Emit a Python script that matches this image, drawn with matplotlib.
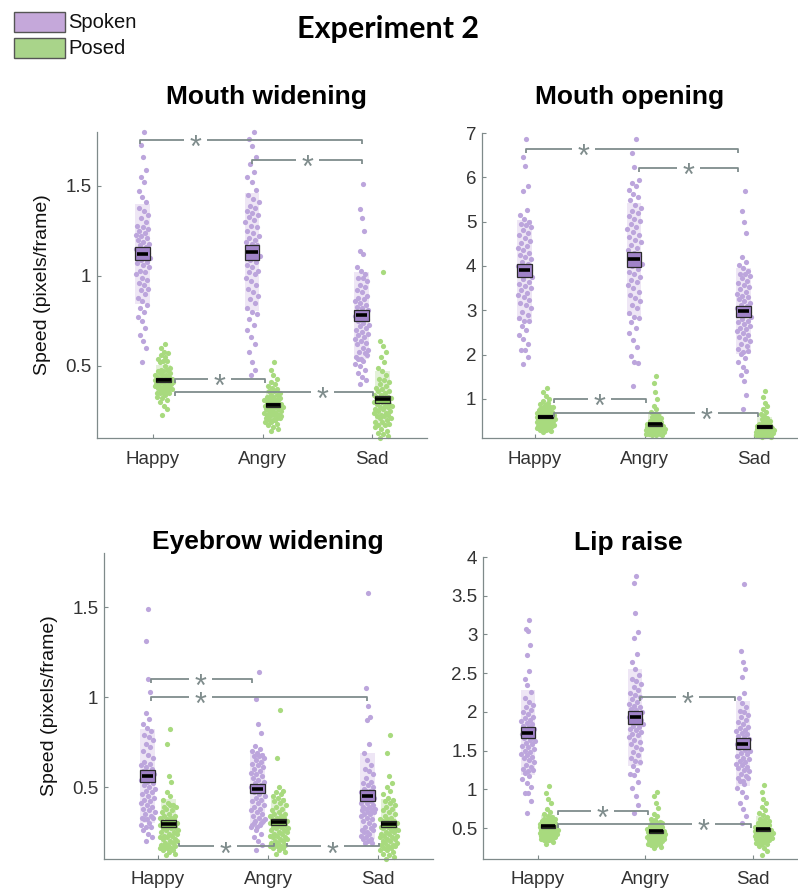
import numpy as np
import matplotlib.pyplot as plt
from matplotlib.patches import Rectangle

W, H = 798, 892
plt.rcParams['font.family'] = ['Liberation Sans', 'DejaVu Sans']

emotions = ["Happy", "Angry", "Sad"]

# Mouth widening (pixels/frame)
mw_spoken_happy = [0.52, 0.60, 0.64, 0.67, 0.71, 0.75, 0.77, 0.80, 0.82, 0.84,
                   0.86, 0.88, 0.90, 0.92, 0.93, 0.95, 0.96, 0.98, 0.99, 1.01,
                   1.02, 1.03, 1.05, 1.06, 1.07, 1.08, 1.09, 1.10, 1.11, 1.12,
                   1.13, 1.14, 1.15, 1.16, 1.17, 1.18, 1.19, 1.20, 1.21, 1.22,
                   1.23, 1.24, 1.25, 1.26, 1.27, 1.28, 1.30, 1.32, 1.34, 1.36,
                   1.38, 1.41, 1.44, 1.47, 1.52, 1.55, 1.59, 1.66, 1.73, 1.80]
mw_spoken_angry = [0.45, 0.48, 0.52, 0.58, 0.62, 0.66, 0.70, 0.73, 0.76, 0.79,
                   0.80, 0.82, 0.85, 0.87, 0.89, 0.91, 0.93, 0.95, 0.97, 0.99,
                   1.01, 1.02, 1.03, 1.05, 1.06, 1.08, 1.09, 1.11, 1.12, 1.14,
                   1.17, 1.18, 1.19, 1.20, 1.21, 1.22, 1.24, 1.25, 1.27, 1.28,
                   1.30, 1.31, 1.33, 1.34, 1.35, 1.36, 1.38, 1.39, 1.41, 1.43,
                   1.45, 1.48, 1.52, 1.55, 1.58, 1.62, 1.66, 1.72, 1.76, 1.80]
mw_spoken_sad = [0.40, 0.42, 0.44, 0.46, 0.48, 0.50, 0.51, 0.53, 0.54, 0.56,
                 0.54, 0.55, 0.57, 0.58, 0.59, 0.60, 0.62, 0.63, 0.64, 0.65,
                 0.66, 0.67, 0.68, 0.69, 0.70, 0.71, 0.72, 0.73, 0.74, 0.75,
                 0.76, 0.77, 0.78, 0.79, 0.80, 0.81, 0.82, 0.83, 0.84, 0.85,
                 0.86, 0.87, 0.88, 0.89, 0.91, 0.92, 0.94, 0.95, 0.97, 0.99,
                 0.99, 1.01, 1.03, 1.05, 1.12, 1.14, 1.25, 1.32, 1.37, 1.51]
mw_posed_happy = [0.23, 0.26, 0.28, 0.30, 0.31, 0.32, 0.33, 0.34, 0.35, 0.35,
                  0.35, 0.35, 0.36, 0.36, 0.37, 0.37, 0.38, 0.38, 0.38, 0.39,
                  0.39, 0.39, 0.40, 0.40, 0.40, 0.41, 0.41, 0.41, 0.42, 0.42,
                  0.41, 0.42, 0.42, 0.42, 0.43, 0.43, 0.43, 0.44, 0.44, 0.45,
                  0.45, 0.45, 0.46, 0.46, 0.47, 0.47, 0.48, 0.48, 0.49, 0.50,
                  0.52, 0.53, 0.53, 0.54, 0.55, 0.56, 0.57, 0.58, 0.60, 0.62]
mw_posed_angry = [0.14, 0.15, 0.16, 0.17, 0.18, 0.19, 0.19, 0.20, 0.20, 0.21,
                  0.20, 0.21, 0.21, 0.22, 0.22, 0.23, 0.23, 0.23, 0.24, 0.24,
                  0.24, 0.25, 0.25, 0.25, 0.26, 0.26, 0.26, 0.27, 0.27, 0.27,
                  0.28, 0.28, 0.28, 0.29, 0.29, 0.29, 0.30, 0.30, 0.31, 0.31,
                  0.31, 0.31, 0.32, 0.32, 0.33, 0.33, 0.34, 0.34, 0.35, 0.36,
                  0.36, 0.37, 0.38, 0.39, 0.40, 0.41, 0.43, 0.45, 0.48, 0.52]
mw_posed_sad = [0.10, 0.11, 0.12, 0.13, 0.14, 0.15, 0.16, 0.17, 0.17, 0.18,
                0.19, 0.19, 0.20, 0.21, 0.21, 0.22, 0.22, 0.23, 0.23, 0.24,
                0.24, 0.25, 0.25, 0.26, 0.26, 0.27, 0.27, 0.28, 0.28, 0.29,
                0.29, 0.30, 0.30, 0.31, 0.31, 0.32, 0.32, 0.33, 0.33, 0.34,
                0.34, 0.35, 0.36, 0.36, 0.37, 0.38, 0.39, 0.40, 0.41, 0.42,
                0.43, 0.45, 0.47, 0.49, 0.52, 0.55, 0.58, 0.61, 0.64, 1.02]

# Mouth opening
mo_spoken_happy = [1.79, 1.95, 2.10, 2.10, 2.25, 2.35, 2.45, 2.55, 2.65, 2.75,
                   2.75, 2.83, 2.90, 2.97, 3.05, 3.11, 3.17, 3.23, 3.29, 3.35,
                   3.40, 3.45, 3.50, 3.55, 3.60, 3.65, 3.70, 3.75, 3.80, 3.85,
                   3.90, 3.95, 4.00, 4.05, 4.10, 4.15, 4.20, 4.25, 4.30, 4.35,
                   4.40, 4.45, 4.51, 4.57, 4.63, 4.69, 4.75, 4.81, 4.87, 4.93,
                   4.94, 5.00, 5.05, 5.15, 5.26, 5.70, 5.81, 6.26, 6.46, 6.87]
mo_spoken_angry = [1.30, 1.81, 1.83, 1.98, 2.18, 2.33, 2.48, 2.60, 2.73, 2.83,
                   2.85, 2.95, 3.05, 3.13, 3.20, 3.28, 3.35, 3.42, 3.50, 3.57,
                   3.63, 3.69, 3.75, 3.81, 3.87, 3.93, 3.99, 4.05, 4.11, 4.17,
                   4.23, 4.29, 4.35, 4.41, 4.47, 4.53, 4.59, 4.65, 4.71, 4.77,
                   4.83, 4.89, 4.95, 5.01, 5.07, 5.13, 5.19, 5.25, 5.31, 5.37,
                   5.48, 5.55, 5.63, 5.71, 5.80, 5.87, 5.95, 6.24, 6.55, 6.87]
mo_spoken_sad = [0.77, 1.10, 1.40, 1.55, 1.63, 1.73, 1.83, 1.93, 2.01, 2.08,
                 2.07, 2.13, 2.19, 2.25, 2.30, 2.35, 2.40, 2.45, 2.49, 2.53,
                 2.57, 2.61, 2.65, 2.69, 2.73, 2.77, 2.81, 2.85, 2.89, 2.93,
                 2.97, 3.01, 3.05, 3.09, 3.13, 3.17, 3.21, 3.25, 3.29, 3.33,
                 3.37, 3.42, 3.47, 3.52, 3.57, 3.62, 3.67, 3.72, 3.77, 3.82,
                 3.82, 3.88, 3.95, 4.02, 4.10, 4.20, 4.74, 4.99, 5.24, 5.70]
mo_posed_happy = [0.25, 0.28, 0.29, 0.30, 0.31, 0.33, 0.35, 0.36, 0.37, 0.39,
                  0.38, 0.39, 0.40, 0.41, 0.42, 0.43, 0.44, 0.45, 0.46, 0.47,
                  0.48, 0.49, 0.50, 0.51, 0.52, 0.53, 0.54, 0.55, 0.56, 0.57,
                  0.58, 0.59, 0.60, 0.61, 0.62, 0.63, 0.64, 0.65, 0.66, 0.67,
                  0.68, 0.69, 0.70, 0.71, 0.73, 0.75, 0.77, 0.79, 0.81, 0.83,
                  0.80, 0.83, 0.86, 0.89, 0.92, 0.96, 1.00, 1.06, 1.15, 1.25]
mo_posed_angry = [0.18, 0.18, 0.19, 0.20, 0.20, 0.21, 0.22, 0.23, 0.23, 0.24,
                  0.24, 0.25, 0.25, 0.26, 0.26, 0.27, 0.27, 0.28, 0.28, 0.29,
                  0.29, 0.30, 0.30, 0.31, 0.31, 0.32, 0.32, 0.33, 0.33, 0.34,
                  0.34, 0.35, 0.36, 0.37, 0.37, 0.38, 0.39, 0.40, 0.41, 0.42,
                  0.43, 0.44, 0.45, 0.47, 0.48, 0.50, 0.52, 0.54, 0.56, 0.59,
                  0.60, 0.63, 0.67, 0.71, 0.77, 0.85, 1.00, 1.16, 1.36, 1.52]
mo_posed_sad = [0.14, 0.15, 0.16, 0.17, 0.17, 0.18, 0.19, 0.19, 0.20, 0.20,
                0.21, 0.21, 0.22, 0.22, 0.23, 0.23, 0.24, 0.24, 0.25, 0.25,
                0.26, 0.26, 0.27, 0.27, 0.28, 0.28, 0.29, 0.29, 0.30, 0.30,
                0.31, 0.31, 0.32, 0.33, 0.33, 0.34, 0.35, 0.36, 0.37, 0.38,
                0.38, 0.39, 0.40, 0.41, 0.43, 0.44, 0.46, 0.48, 0.50, 0.52,
                0.55, 0.58, 0.62, 0.66, 0.71, 0.78, 0.85, 0.92, 1.05, 1.18]

# Eyebrow widening
ew_spoken_happy = [0.20, 0.22, 0.24, 0.26, 0.28, 0.28, 0.29, 0.30, 0.32, 0.33,
                   0.32, 0.33, 0.34, 0.35, 0.36, 0.37, 0.38, 0.39, 0.40, 0.41,
                   0.42, 0.43, 0.44, 0.45, 0.46, 0.47, 0.48, 0.49, 0.50, 0.51,
                   0.52, 0.53, 0.54, 0.55, 0.56, 0.57, 0.58, 0.59, 0.60, 0.61,
                   0.62, 0.63, 0.64, 0.66, 0.68, 0.70, 0.72, 0.74, 0.76, 0.78,
                   0.79, 0.81, 0.83, 0.85, 0.88, 0.91, 1.03, 1.10, 1.31, 1.49]
ew_spoken_angry = [0.15, 0.18, 0.20, 0.22, 0.24, 0.26, 0.28, 0.29, 0.30, 0.31,
                   0.28, 0.29, 0.30, 0.31, 0.32, 0.33, 0.34, 0.35, 0.36, 0.37,
                   0.38, 0.39, 0.40, 0.41, 0.42, 0.43, 0.44, 0.45, 0.46, 0.47,
                   0.48, 0.49, 0.50, 0.51, 0.52, 0.53, 0.54, 0.55, 0.56, 0.57,
                   0.58, 0.59, 0.60, 0.61, 0.62, 0.63, 0.64, 0.65, 0.66, 0.67,
                   0.67, 0.68, 0.69, 0.70, 0.71, 0.73, 0.80, 0.85, 0.99, 1.14]
ew_spoken_sad = [0.19, 0.19, 0.20, 0.21, 0.21, 0.22, 0.23, 0.24, 0.25, 0.26,
                 0.25, 0.26, 0.27, 0.28, 0.29, 0.30, 0.31, 0.32, 0.33, 0.34,
                 0.35, 0.35, 0.36, 0.36, 0.37, 0.37, 0.38, 0.38, 0.39, 0.39,
                 0.40, 0.41, 0.41, 0.42, 0.43, 0.44, 0.45, 0.46, 0.47, 0.48,
                 0.47, 0.48, 0.49, 0.50, 0.51, 0.52, 0.53, 0.55, 0.57, 0.59,
                 0.60, 0.62, 0.65, 0.69, 0.74, 0.87, 0.89, 0.95, 1.05, 1.58]
ew_posed_happy = [0.12, 0.13, 0.14, 0.15, 0.15, 0.16, 0.16, 0.16, 0.17, 0.17,
                  0.18, 0.18, 0.19, 0.19, 0.20, 0.20, 0.21, 0.21, 0.22, 0.22,
                  0.23, 0.23, 0.24, 0.24, 0.25, 0.25, 0.26, 0.26, 0.27, 0.27,
                  0.28, 0.28, 0.29, 0.29, 0.30, 0.30, 0.31, 0.31, 0.32, 0.32,
                  0.33, 0.33, 0.34, 0.34, 0.35, 0.36, 0.37, 0.38, 0.39, 0.40,
                  0.39, 0.40, 0.41, 0.43, 0.45, 0.47, 0.53, 0.56, 0.74, 0.82]
ew_posed_angry = [0.13, 0.14, 0.15, 0.16, 0.16, 0.17, 0.17, 0.17, 0.18, 0.18,
                  0.19, 0.19, 0.20, 0.20, 0.21, 0.21, 0.22, 0.22, 0.23, 0.23,
                  0.24, 0.24, 0.25, 0.25, 0.26, 0.26, 0.27, 0.27, 0.28, 0.28,
                  0.29, 0.29, 0.30, 0.30, 0.31, 0.31, 0.32, 0.32, 0.33, 0.33,
                  0.34, 0.34, 0.35, 0.35, 0.36, 0.37, 0.38, 0.39, 0.40, 0.41,
                  0.42, 0.43, 0.44, 0.45, 0.46, 0.47, 0.48, 0.50, 0.66, 0.93]
ew_posed_sad = [0.10, 0.11, 0.12, 0.13, 0.14, 0.15, 0.15, 0.16, 0.16, 0.17,
                0.17, 0.18, 0.18, 0.19, 0.19, 0.20, 0.20, 0.21, 0.21, 0.22,
                0.22, 0.23, 0.23, 0.24, 0.24, 0.25, 0.25, 0.26, 0.26, 0.27,
                0.27, 0.28, 0.28, 0.29, 0.29, 0.30, 0.30, 0.31, 0.31, 0.32,
                0.32, 0.33, 0.34, 0.35, 0.36, 0.37, 0.38, 0.39, 0.40, 0.41,
                0.42, 0.43, 0.44, 0.46, 0.48, 0.50, 0.52, 0.56, 0.69, 0.79]

# Lip raise
lr_spoken_happy = [0.69, 0.85, 0.95, 0.95, 1.03, 1.08, 1.13, 1.17, 1.21, 1.25,
                   1.23, 1.26, 1.29, 1.32, 1.35, 1.38, 1.40, 1.42, 1.44, 1.46,
                   1.48, 1.50, 1.52, 1.54, 1.56, 1.58, 1.60, 1.62, 1.64, 1.66,
                   1.68, 1.70, 1.72, 1.74, 1.76, 1.78, 1.80, 1.82, 1.84, 1.86,
                   1.88, 1.90, 1.92, 1.94, 1.97, 2.00, 2.03, 2.06, 2.09, 2.13,
                   2.18, 2.26, 2.35, 2.43, 2.53, 2.74, 2.86, 3.05, 3.07, 3.19]
lr_spoken_angry = [0.70, 0.80, 0.92, 1.02, 1.10, 1.18, 1.20, 1.25, 1.30, 1.35,
                   1.36, 1.40, 1.44, 1.48, 1.52, 1.55, 1.58, 1.61, 1.64, 1.67,
                   1.70, 1.72, 1.74, 1.76, 1.78, 1.80, 1.82, 1.84, 1.86, 1.88,
                   1.90, 1.92, 1.94, 1.96, 1.98, 2.00, 2.02, 2.04, 2.06, 2.08,
                   2.10, 2.13, 2.16, 2.19, 2.22, 2.25, 2.28, 2.32, 2.36, 2.40,
                   2.42, 2.48, 2.55, 2.65, 2.75, 2.95, 3.03, 3.28, 3.67, 3.76]
lr_spoken_sad = [0.57, 0.65, 0.75, 0.82, 0.90, 0.96, 1.02, 1.07, 1.11, 1.15,
                 1.11, 1.14, 1.17, 1.20, 1.23, 1.25, 1.27, 1.29, 1.31, 1.33,
                 1.35, 1.37, 1.39, 1.41, 1.43, 1.45, 1.47, 1.49, 1.51, 1.53,
                 1.55, 1.57, 1.59, 1.61, 1.63, 1.65, 1.67, 1.69, 1.71, 1.73,
                 1.75, 1.77, 1.79, 1.81, 1.84, 1.87, 1.90, 1.93, 1.96, 2.00,
                 2.01, 2.06, 2.12, 2.18, 2.25, 2.45, 2.55, 2.64, 2.78, 3.65]
lr_posed_happy = [0.30, 0.32, 0.34, 0.34, 0.35, 0.35, 0.36, 0.37, 0.38, 0.39,
                  0.40, 0.40, 0.41, 0.41, 0.42, 0.42, 0.43, 0.43, 0.44, 0.44,
                  0.45, 0.45, 0.46, 0.46, 0.47, 0.47, 0.48, 0.48, 0.49, 0.49,
                  0.50, 0.50, 0.51, 0.51, 0.52, 0.52, 0.53, 0.53, 0.54, 0.54,
                  0.55, 0.55, 0.56, 0.57, 0.58, 0.59, 0.60, 0.61, 0.62, 0.63,
                  0.62, 0.64, 0.66, 0.68, 0.71, 0.74, 0.82, 0.88, 0.95, 1.04]
lr_posed_angry = [0.24, 0.26, 0.28, 0.28, 0.29, 0.29, 0.30, 0.31, 0.32, 0.33,
                  0.34, 0.34, 0.35, 0.35, 0.36, 0.36, 0.37, 0.37, 0.38, 0.38,
                  0.39, 0.39, 0.40, 0.40, 0.41, 0.41, 0.42, 0.42, 0.43, 0.43,
                  0.44, 0.44, 0.45, 0.45, 0.46, 0.46, 0.47, 0.47, 0.48, 0.48,
                  0.49, 0.49, 0.50, 0.51, 0.52, 0.53, 0.54, 0.55, 0.56, 0.57,
                  0.56, 0.58, 0.60, 0.62, 0.65, 0.68, 0.76, 0.82, 0.91, 0.96]
lr_posed_sad = [0.15, 0.20, 0.24, 0.27, 0.29, 0.30, 0.31, 0.32, 0.33, 0.34,
                0.35, 0.36, 0.36, 0.37, 0.37, 0.38, 0.38, 0.39, 0.39, 0.40,
                0.40, 0.41, 0.41, 0.42, 0.42, 0.43, 0.43, 0.44, 0.44, 0.45,
                0.45, 0.46, 0.46, 0.47, 0.47, 0.48, 0.48, 0.49, 0.49, 0.50,
                0.51, 0.52, 0.53, 0.54, 0.55, 0.56, 0.57, 0.58, 0.59, 0.60,
                0.62, 0.64, 0.67, 0.70, 0.73, 0.77, 0.82, 0.88, 0.96, 1.06]

# significance brackets: (from, to, height, star position, +1 ticks down / -1 ticks up)
mw_brackets = [(0.88, 2.91, 1.754, 1.39, 1), (1.90, 2.91, 1.644, 2.41, 1),
               (1.20, 2.02, 0.428, 1.61, 1), (1.20, 3.01, 0.354, 2.55, 1)]
mo_brackets = [(0.92, 2.85, 6.64, 1.44, 1), (1.95, 2.85, 6.21, 2.40, 1),
               (1.17, 2.01, 1.00, 1.59, 1), (1.17, 3.04, 0.68, 2.57, 1)]
ew_brackets = [(0.94, 1.85, 1.10, 1.39, 1), (0.94, 2.90, 1.00, 1.39, 1),
               (1.19, 2.05, 0.17, 1.61, -1), (2.17, 3.01, 0.17, 2.59, -1)]
lr_brackets = [(1.95, 2.83, 2.19, 2.39, 1),
               (1.19, 2.02, 0.72, 1.60, 1), (1.19, 2.98, 0.55, 2.54, 1)]

SPOKEN_DOT, SPOKEN_SHADE, SPOKEN_BOX = '#bca5dc', '#eee6f5', '#a083c8'
POSED_DOT, POSED_SHADE, POSED_BOX = '#a8da7e', '#e3f1d8', '#8cc560'
AXIS_C = '#7f8a8a'
BRACKET_C = '#7f8c8c'


def spread(vals, maxw):
    """Horizontal offsets that follow the local density of the values."""
    v = np.asarray(vals, float)
    bw = 0.35 * v.std() + 1e-9
    d = np.exp(-0.5 * ((v[:, None] - v[None, :]) / bw) ** 2).sum(1)
    d = d / d.max()
    k = np.arange(len(v))
    u = 2 * ((k * 0.6180339887 + 0.31) % 1.0) - 1
    return maxw * np.sqrt(d) * u


def draw_group(ax, x, vals, dot, shade, box, maxw, line_hw):
    v = np.asarray(vals, float)
    m = v.mean()
    sd = v.std(ddof=1)
    sem = sd / np.sqrt(len(v))
    hw = 0.065
    ax.add_patch(Rectangle((x - hw, m - sd), 2 * hw, 2 * sd, fc=shade, ec='none', zorder=1))
    ax.scatter(x + spread(v, maxw), v, s=14, c=dot, linewidths=0, zorder=2, clip_on=False)
    ax.add_patch(Rectangle((x - hw, m - sem), 2 * hw, 2 * sem, fc=box, ec='#2b2b2b', lw=0.9, zorder=3))
    ax.plot([x - line_hw, x + line_hw], [m, m], color='k', lw=2.6, solid_capstyle='butt', zorder=4)


def draw_bracket(ax, x1, x2, y, sx, d, ylim):
    t = 0.012 * (ylim[1] - ylim[0]) * d
    gap = 0.105
    kw = dict(color=BRACKET_C, lw=1.3, zorder=5, solid_capstyle='butt')
    ax.plot([x1, x1, sx - gap], [y - t, y, y], **kw)
    ax.plot([sx + gap, x2, x2], [y, y, y - t], **kw)
    fs = 22
    ax.annotate('*', (sx, y), xytext=(0, -0.56 * fs), textcoords='offset points',
                ha='center', va='baseline', fontsize=fs, color=BRACKET_C, zorder=6)


def panel(fig, left, cat1, step, top, bottom, ylim, yticks, spoken, posed, brackets, ylabel):
    lo = 1 - (cat1 - left) / step
    hi = 3.5
    ax = fig.add_axes([left / W, 1 - bottom / H, (hi - lo) * step / W, (bottom - top) / H])
    ax.set_xlim(lo, hi)
    ax.set_ylim(*ylim)
    for i, vals in enumerate(spoken):
        draw_group(ax, i + 1 - 0.095, vals, SPOKEN_DOT, SPOKEN_SHADE, SPOKEN_BOX, 0.07, 0.052)
    for i, vals in enumerate(posed):
        draw_group(ax, i + 1 + 0.095, vals, POSED_DOT, POSED_SHADE, POSED_BOX, 0.09, 0.065)
    for b in brackets:
        draw_bracket(ax, *b, ylim)
    ax.set_xticks([1, 2, 3])
    ax.set_xticklabels(emotions)
    ax.set_yticks(yticks)
    ax.set_yticklabels(['%g' % t for t in yticks])
    for s in ['top', 'right']:
        ax.spines[s].set_visible(False)
    for s in ['left', 'bottom']:
        ax.spines[s].set_color(AXIS_C)
        ax.spines[s].set_linewidth(0.9)
    ax.tick_params(direction='in', length=3, width=0.8, color=AXIS_C,
                   labelsize=13.5, labelcolor='#333333')
    ax.tick_params(axis='x', pad=9)
    ax.tick_params(axis='y', pad=4)
    if ylabel:
        ax.set_ylabel("Speed (pixels/frame)", fontsize=14, color='#111111', labelpad=10)
    return ax


fig = plt.figure(figsize=(W / 100, H / 100), dpi=100)

panel(fig, 97, 153, 109.5, 132, 438, (0.1, 1.8), [0.5, 1, 1.5],
      [mw_spoken_happy, mw_spoken_angry, mw_spoken_sad],
      [mw_posed_happy, mw_posed_angry, mw_posed_sad], mw_brackets, True)
panel(fig, 482, 535, 109.5, 133, 438, (0.12, 7.0), [1, 2, 3, 4, 5, 6, 7],
      [mo_spoken_happy, mo_spoken_angry, mo_spoken_sad],
      [mo_posed_happy, mo_posed_angry, mo_posed_sad], mo_brackets, False)
panel(fig, 104, 158, 110, 553, 859, (0.1, 1.8), [0.5, 1, 1.5],
      [ew_spoken_happy, ew_spoken_angry, ew_spoken_sad],
      [ew_posed_happy, ew_posed_angry, ew_posed_sad], ew_brackets, True)
panel(fig, 483, 538, 107.5, 557, 859, (0.1, 4.0), [0.5, 1, 1.5, 2, 2.5, 3, 3.5, 4],
      [lr_spoken_happy, lr_spoken_angry, lr_spoken_sad],
      [lr_posed_happy, lr_posed_angry, lr_posed_sad], lr_brackets, False)

titles = ["Mouth widening", "Mouth opening", "Eyebrow widening", "Lip raise"]
title_xy = [(266, 97), (630, 97), (268, 542), (628, 543)]
for t, (x, y) in zip(titles, title_xy):
    fig.text(x / W, 1 - y / H, t, ha='center', va='center', fontsize=19, fontweight='bold')

fig.text(388 / W, 1 - 29 / H, "Experiment 2", ha='center', va='center',
         fontsize=22, fontweight='bold', family=['Lato', 'DejaVu Sans'])

# legend
for y0, c, lab in [(12, '#c5a8da', "Spoken"), (38, '#a9d48a', "Posed")]:
    fig.add_artist(Rectangle((14 / W, 1 - (y0 + 20) / H), 51 / W, 20 / H,
                             transform=fig.transFigure, fc=c, ec='#555555', lw=1))
    fig.text(68 / W, 1 - (y0 + 10) / H, lab, ha='left', va='center', fontsize=14.5, color='#111111')

fig.savefig("out.png", dpi=100)
